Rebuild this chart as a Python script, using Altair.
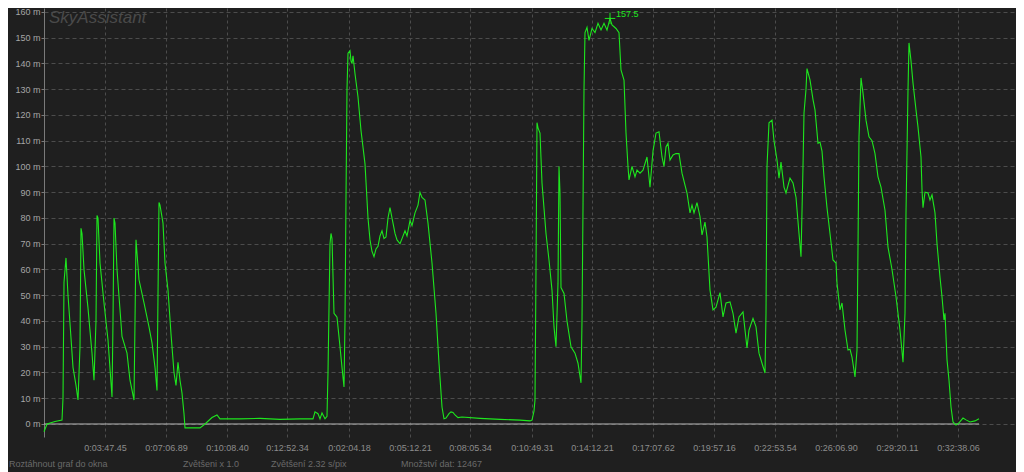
import altair as alt
import pandas as pd

# ---- data (sample index, altitude in m) ----
sample = [0, 3, 11, 18, 19, 20, 22, 24, 26, 29, 32, 34, 36, 37, 38, 40, 44, 48, 50, 52, 53, 54, 56, 60, 64, 68, 69, 70, 71, 73, 78, 83, 86, 90, 91, 92, 95, 100, 105, 108, 111, 113, 114, 115, 116, 119, 121, 124, 127, 130, 132, 134, 136, 138, 140, 141,
          156, 161, 168, 173, 176, 196, 216, 236, 256, 269, 271, 274, 276, 278, 281, 283,
          284, 286, 287, 288, 290, 292, 293, 296, 298, 300, 301, 302, 303, 304, 306, 307, 308, 309, 311, 314, 317, 321, 324, 326, 328, 330, 332, 334, 336, 338, 340, 342, 344, 346, 348, 349, 351, 353, 356, 358, 361, 363, 366, 368, 371, 374, 376, 378, 381, 384, 388, 392, 395, 398,
          400, 402, 405, 407, 409, 411, 414, 418, 436, 456, 476, 486, 488,
          490, 491, 492, 493, 494, 496, 498, 502, 505, 508, 510, 512, 514, 515, 516, 517, 520, 523, 527, 531, 534, 537, 538, 539, 540, 541, 543, 545, 548, 551, 554, 557, 560, 563, 566, 568, 572, 575, 577, 580, 582, 584, 585, 588, 591, 593, 596, 599, 603, 606, 609, 612, 615, 618, 620, 622, 624, 626, 629, 632, 635, 638, 643, 646, 648, 650, 653, 656, 658, 661, 663, 666, 669, 672, 676, 679, 682, 686, 689, 692, 695, 699, 703, 705, 709, 712, 715, 718, 721,
          722, 723, 725, 728, 730, 733, 735, 737, 740, 742, 746, 749, 752, 755, 757, 759, 760, 762, 763, 766, 769, 771, 774, 776, 778, 780, 783, 786, 789, 792, 793, 796, 798, 801, 804, 806, 808, 811, 813,
          814, 815, 817, 819, 822, 825, 828, 831, 834, 837, 841, 844, 848, 852, 856, 859, 861, 862, 864, 865, 867, 869, 872, 874, 877, 878, 879, 881, 884, 886, 888, 891, 893, 896, 898, 900, 901, 903, 905, 907, 909, 912, 915, 919, 922, 926, 931, 935]
altitude = [-3, 0, 1, 1.5, 10, 55, 64.5, 50, 39, 22, 15, 9.3, 30, 76, 74, 60, 45, 27.5, 17, 40, 81, 80, 62.5, 47, 32.6, 10.5, 40, 80, 78, 60, 34, 27.5, 17, 9.3, 40, 71.5, 56, 47, 37.7, 31.5, 22, 13, 50, 86, 85, 78, 62.5, 52, 35, 20, 15, 24, 17, 12, 4, -1.5,
            -1.5, 0, 2.5, 3.5, 2, 2, 2.2, 1.8, 2, 2, 4.7, 4, 2, 4.3, 2, 3,
            20, 70, 74, 72, 43, 42, 41.5, 30, 22, 14.4, 40, 88, 130, 144, 145, 141, 140, 143, 136, 127, 114, 101, 80, 71.5, 67, 65, 68, 69, 73, 75, 72, 72.6, 80, 84, 80, 78, 74, 71.5, 70, 72, 75, 73, 79, 77, 82, 85, 90, 88, 87, 78, 62.5, 43, 23.6, 6.6,
            2, 2.3, 4, 4.7, 4.5, 3.5, 2.5, 2.7, 2.2, 1.8, 1.5, 1.2, 1.5,
            5, 9.3, 60, 117, 115, 113, 93.6, 74, 63.7, 52, 37.7, 30, 54.7, 100, 89.7, 53, 50.7, 40, 30, 27.5, 23.6, 16, 40, 84, 130, 152, 154, 149, 153.6, 152, 155.6, 153, 155.6, 153, 157.5, 155, 153.6, 152, 137.5, 133.6, 113, 100, 94.8, 100, 96, 98.6, 97.4, 98.6, 103.7, 92, 106, 113, 113.5, 103.7, 100, 107.6, 109, 102.5, 104.5, 105, 105, 97.4, 89.7, 82, 85, 82, 86, 80.5, 73.4, 78.4, 72.6, 52, 44.3, 45.4, 51, 41.6, 47, 47.4, 43, 35.3, 41.6, 43.5, 29.5, 36.5, 41, 37.7, 27.5, 23.6, 19.8,
            43, 100, 117, 118, 110, 102.5, 95.5, 101.7, 92, 89.7, 95.5, 93.6, 88, 74, 65, 100, 120.8, 130, 138, 133.6, 126, 122, 109, 109.5, 106, 96, 84, 74, 63.7, 62.5, 54.7, 44.3, 47, 36.5, 28.7, 29, 26, 18.3, 28.7,
            68.7, 111.5, 134.4, 128.5, 118, 111.5, 110, 105, 96, 92, 83, 68.7, 60, 49.4, 36.5, 24, 43, 82, 129.7, 148, 141, 132.4, 122, 115.3, 103.7, 91, 84, 90, 89.7, 87, 89, 82, 70, 57, 49.4, 40.4, 43, 25, 17, 6.6, 0.8, -0.4, 0.4, 2.3, 1.6, 0.8, 1.2, 2]

tick_samples = [61, 122, 183, 243, 305, 366, 426, 488, 548, 609, 670, 731, 792, 853, 914]
tick_labels = ["0:03:47.45", "0:07:06.89", "0:10:08.40", "0:12:52.34", "0:02:04.18",
               "0:05:12.21", "0:08:05.34", "0:10:49.31", "0:14:12.21", "0:17:07.62",
               "0:19:57.16", "0:22:53.54", "0:26:06.90", "0:29:20.11", "0:32:38.06"]
y_ticks = list(range(0, 161, 10))
footer_texts = ["Roztáhnout graf do okna", "Zvětšeni x 1.0", "Zvětšení 2.32 s/pix", "Množství dat: 12467"]
app_title = "SkyAssistant"

# ---- styling ----
BG = "#1f1f1f"
GREEN = "#1ee61e"
FONT = "Liberation Sans"
PLOT_W, PLOT_H = 972, 429

df = pd.DataFrame({"t": sample, "alt": altitude})
peak = df.loc[[df["alt"].idxmax()]]
zero_df = pd.DataFrame({"t": [min(sample)], "t2": [max(sample)], "alt": [0]})

x_scale = alt.Scale(domain=[0, 972], nice=False, zero=False)
y_scale = alt.Scale(domain=[-5.05, 161.55], nice=False, zero=False)

label_expr = "[" + ",".join("'%s'" % l for l in tick_labels) + "][indexof([" + \
    ",".join(str(v) for v in tick_samples) + "], datum.value)]"

x_axis = alt.Axis(values=tick_samples, labelExpr=label_expr, grid=True, gridDash=[3, 3],
                  gridColor="#4c4c4c", domain=False, ticks=False, tickSize=0,
                  labelColor="#8c8c8c", labelFontSize=9, labelFont=FONT, labelPadding=10,
                  labelBaseline="middle", labelFlush=False, labelOverlap=False, title=None)
y_axis = alt.Axis(values=y_ticks, labelExpr="datum.value + ' m'", grid=True, gridDash=[4, 3],
                  gridColor="#4c4c4c", domainColor="#7a7a7a", tickColor="#7a7a7a", tickSize=3,
                  labelPadding=1, labelColor="#a6a6a6", labelFontSize=9, labelFont=FONT,
                  title=None)

X = alt.X("t:Q", scale=x_scale, axis=x_axis)
Y = alt.Y("alt:Q", scale=y_scale, axis=y_axis)

zero_rule = alt.Chart(zero_df).mark_rule(color="#b8b8b8", strokeWidth=1).encode(
    x=X, x2="t2:Q", y=Y,
)

line = alt.Chart(df).mark_line(color=GREEN, strokeWidth=1.1).encode(x=X, y=Y)

peak_mark = alt.Chart(peak).mark_point(
    shape="M-1,0H1M0,-1.1V1.1", filled=False, color=GREEN, size=110, strokeWidth=1, opacity=1
).encode(x=X, y=Y)

peak_label = alt.Chart(peak).mark_text(
    align="left", baseline="middle", dx=6, dy=-4, color=GREEN, fontSize=9, font=FONT
).encode(x=X, y=Y, text=alt.Text("alt:Q", format=".1f"))

title_mark = alt.Chart(pd.DataFrame({"s": [app_title]})).mark_text(
    align="left", baseline="alphabetic", fontSize=17, fontStyle="italic", font=FONT,
    color="#4a4a4a"
).encode(x=alt.value(5), y=alt.value(15), text="s:N")

footer_x = [-35, 139, 227, 357]
footers = [
    alt.Chart(pd.DataFrame({"s": [txt]})).mark_text(
        align="left", baseline="middle", fontSize=9, font=FONT, color="#6a6a6a"
    ).encode(x=alt.value(px), y=alt.value(456), text="s:N")
    for txt, px in zip(footer_texts, footer_x)
]

chart = alt.layer(zero_rule, line, peak_mark, peak_label, title_mark, *footers).properties(
    width=PLOT_W, height=PLOT_H,
    autosize=alt.AutoSizeParams(type="none"),
    padding={"left": 36, "top": 0, "right": 0, "bottom": 35},
    background=BG,
).configure_view(strokeWidth=0)

chart.save("out.html", embed_options={"renderer": "svg", "actions": False})
